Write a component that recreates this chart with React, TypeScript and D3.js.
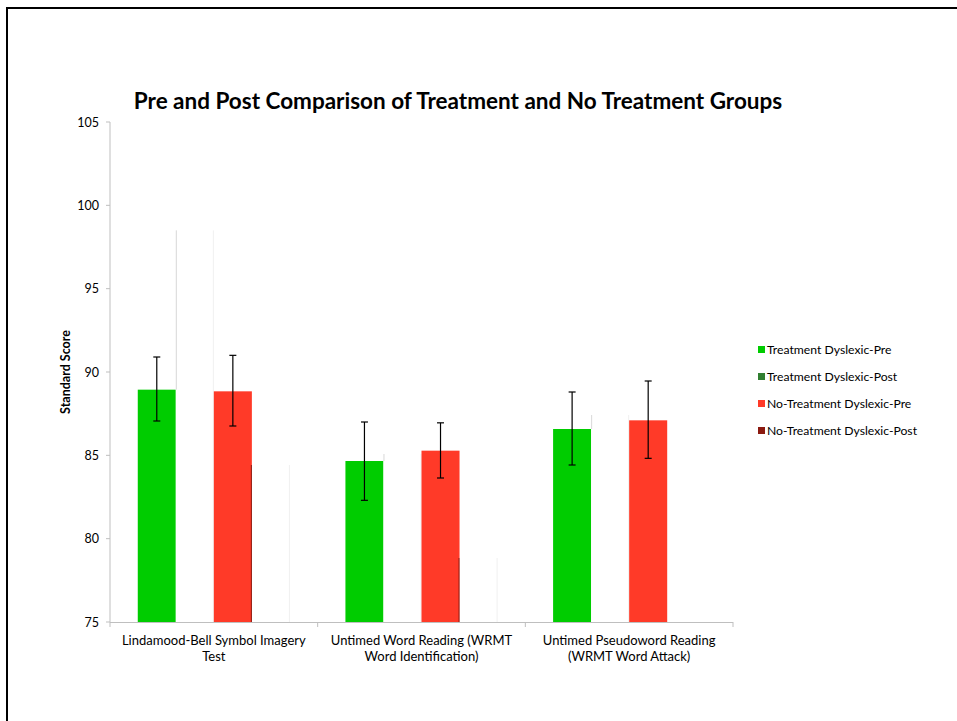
import React from "react";
import * as d3 from "d3";

const categories = [
  ["Lindamood-Bell Symbol Imagery", "Test"],
  ["Untimed Word Reading (WRMT", "Word Identification)"],
  ["Untimed Pseudoword Reading", "(WRMT Word Attack)"],
];
const seriesNames = [
  "Treatment Dyslexic-Pre",
  "Treatment Dyslexic-Post",
  "No-Treatment Dyslexic-Pre",
  "No-Treatment Dyslexic-Post",
];
const seriesColors = ["#00cc00", "#317f31", "#ff3a28", "#8b1a10"];
const treatmentPre = [88.94, 84.66, 86.58];
const treatmentPost = [98.5, 85.08, 87.42];
const noTreatmentPre = [88.84, 85.28, 87.1];
const noTreatmentPost: (number | null)[] = [84.42, 78.84, null];
const treatmentPreErr = [
  [87.06, 90.9],
  [82.3, 87.0],
  [84.42, 88.8],
];
const noTreatmentPreErr = [
  [86.76, 91.0],
  [83.64, 86.95],
  [84.82, 89.46],
];
const yTicks = [75, 80, 85, 90, 95, 100, 105];
const title = "Pre and Post Comparison of Treatment and No Treatment Groups";
const yTitle = "Standard Score";

export default function App() {
  const W = 957,
    H = 721;
  const left = 110,
    right = 733,
    top = 122,
    bottom = 622;
  const font = "Lato, 'Open Sans', sans-serif";
  const y = d3.scaleLinear().domain([75, 105]).range([bottom, top]);
  const x0 = d3
    .scaleBand<number>()
    .domain(categories.map((_, i) => i))
    .range([left, right])
    .padding(0);
  const x1 = d3
    .scaleBand<string>()
    .domain(seriesNames)
    .range([0, x0.bandwidth()])
    .paddingInner(0)
    .paddingOuter(0.73);
  const values: (number | null)[][] = [treatmentPre, treatmentPost, noTreatmentPre, noTreatmentPost];
  const errs = [treatmentPreErr, null, noTreatmentPreErr, null];
  const bw = x1.bandwidth();

  return (
    <div style={{ position: "absolute", left: 0, top: 0 }}>
      <svg width={W} height={H} style={{ display: "block", background: "#fff" }}>
        <rect x={7} y={8} width={1200} height={1200} fill="none" stroke="#000" strokeWidth={2} />
        <text x={458} y={109} textAnchor="middle" fontFamily={font} fontWeight="bold" fontSize={22.5} fill="#000">
          {title}
        </text>
        {/* y axis */}
        <line x1={left} x2={left} y1={top} y2={bottom} stroke="#bfbfbf" />
        {yTicks.map((t) => (
          <g key={t}>
            <line x1={left - 4} x2={left} y1={y(t)} y2={y(t)} stroke="#bfbfbf" />
            <text x={left - 11} y={y(t) + 4.5} textAnchor="end" fontFamily={font} fontSize={12.5} fill="#000">
              {t}
            </text>
          </g>
        ))}
        <text
          transform={`translate(70, 372) rotate(-90)`}
          textAnchor="middle"
          fontFamily={font}
          fontWeight="bold"
          fontSize={12.5}
          fill="#000"
        >
          {yTitle}
        </text>
        {/* bars */}
        {categories.map((_, ci) => (
          <g key={ci} transform={`translate(${x0(ci)},0)`}>
            {seriesNames.map((s, si) => {
              const v = values[si][ci];
              if (v == null) return null;
              const bx = x1(s)!;
              const isPost = si % 2 === 1;
              if (!isPost) {
                return <rect key={s} x={bx} y={y(v)} width={bw} height={bottom - y(v)} fill={seriesColors[si]} />;
              }
              const prevTop = y(values[si - 1][ci] as number);
              return (
                <g key={s}>
                  <rect x={bx} y={y(v)} width={bw} height={bottom - y(v)} fill="#fff" />
                  {y(v) < prevTop && (
                    <line x1={bx + 0.5} x2={bx + 0.5} y1={y(v)} y2={prevTop} stroke="#d8d8d8" />
                  )}
                  {si === 3 && y(v) > prevTop && (
                    <line x1={bx - 0.5} x2={bx - 0.5} y1={y(v)} y2={bottom} stroke={seriesColors[3]} />
                  )}
                  <line x1={bx + bw - 0.5} x2={bx + bw - 0.5} y1={y(v)} y2={bottom} stroke="#f0f0f0" />
                </g>
              );
            })}
            {seriesNames.map((s, si) => {
              const e = errs[si];
              if (!e) return null;
              const cx = x1(s)! + bw / 2;
              const [lo, hi] = e[ci];
              return (
                <g key={"e" + s} stroke="#000" strokeWidth={1.2}>
                  <line x1={cx} x2={cx} y1={y(hi)} y2={y(lo)} />
                  <line x1={cx - 3.5} x2={cx + 3.5} y1={y(hi)} y2={y(hi)} />
                  <line x1={cx - 3.5} x2={cx + 3.5} y1={y(lo)} y2={y(lo)} />
                </g>
              );
            })}
          </g>
        ))}
        {/* x axis */}
        <line x1={left} x2={right} y1={bottom + 0.5} y2={bottom + 0.5} stroke="#bfbfbf" />
        {[0, 1, 2, 3].map((i) => {
          const xx = i < 3 ? x0(i)! : right;
          return <line key={i} x1={xx} x2={xx} y1={bottom} y2={bottom + 5} stroke="#bfbfbf" />;
        })}
        {categories.map((lines, ci) => (
          <text
            key={ci}
            x={x0(ci)! + x0.bandwidth() / 2}
            y={645}
            textAnchor="middle"
            fontFamily={font}
            fontSize={13}
            fill="#000"
          >
            {lines.map((l, li) => (
              <tspan key={li} x={x0(ci)! + x0.bandwidth() / 2} dy={li === 0 ? 0 : 16}>
                {l}
              </tspan>
            ))}
          </text>
        ))}
        {/* legend */}
        {seriesNames.map((s, si) => (
          <g key={s} transform={`translate(758, ${346 + si * 27})`}>
            <rect x={0} y={0} width={7} height={7} fill={seriesColors[si]} />
            <text x={9} y={8} fontFamily={font} fontSize={12.2} fill="#000">
              {s}
            </text>
          </g>
        ))}
      </svg>
    </div>
  );
}
